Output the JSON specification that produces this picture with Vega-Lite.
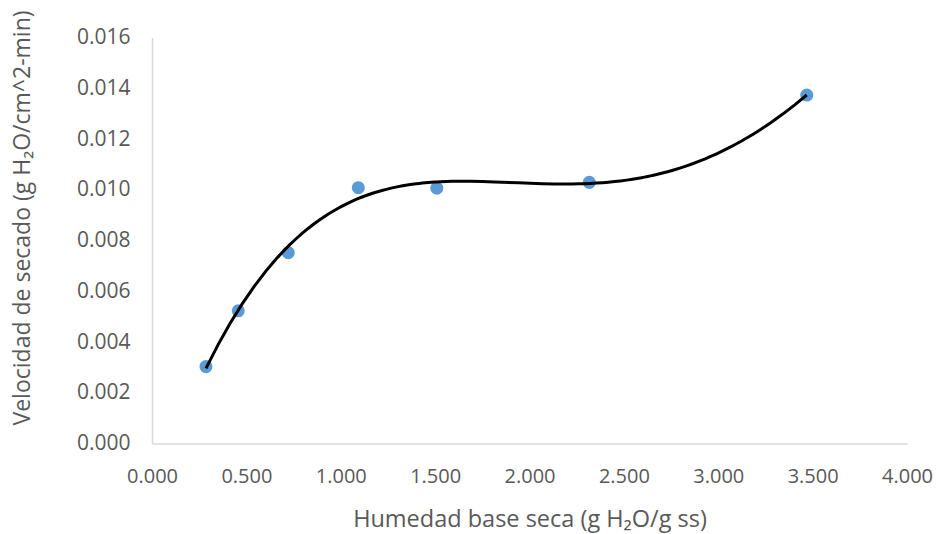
{
  "$schema": "https://vega.github.io/schema/vega-lite/v6.json",
  "width": 755,
  "height": 406,
  "autosize": {"type": "none"},
  "padding": {"left": 152, "top": 37.5, "right": 36, "bottom": 90.5},
  "background": "white",
  "config": {"view": {"stroke": null}},
  "data": {
    "values": [
      {"humedad": 0.286, "velocidad": 0.00303},
      {"humedad": 0.457, "velocidad": 0.00523},
      {"humedad": 0.722, "velocidad": 0.00752},
      {"humedad": 1.093, "velocidad": 0.01008},
      {"humedad": 1.509, "velocidad": 0.01006},
      {"humedad": 2.317, "velocidad": 0.01029},
      {"humedad": 3.469, "velocidad": 0.01373}
    ]
  },
  "encoding": {
    "x": {
      "field": "humedad",
      "type": "quantitative",
      "scale": {"domain": [0, 4], "nice": false, "zero": false},
      "axis": {
        "title": "Humedad base seca (g H₂O/g ss)",
        "values": [0, 0.5, 1, 1.5, 2, 2.5, 3, 3.5, 4],
        "format": ".3f",
        "grid": false,
        "ticks": false,
        "domainColor": "#D9D9D9",
        "domainWidth": 1.5,
        "labelColor": "#595959",
        "labelFont": "Open Sans",
        "labelFontSize": 20,
        "labelPadding": 23,
        "labelFlush": false,
        "titleColor": "#595959",
        "titleFont": "Open Sans",
        "titleFontSize": 23.5,
        "titleFontWeight": "normal",
        "titlePadding": 21
      }
    },
    "y": {
      "field": "velocidad",
      "type": "quantitative",
      "scale": {"domain": [0, 0.016], "nice": false},
      "axis": {
        "title": "Velocidad de secado (g H₂O/cm^2-min)",
        "values": [0, 0.002, 0.004, 0.006, 0.008, 0.01, 0.012, 0.014, 0.016],
        "format": ".3f",
        "grid": false,
        "ticks": false,
        "domainColor": "#D9D9D9",
        "domainWidth": 1.5,
        "labelColor": "#595959",
        "labelFont": "Open Sans",
        "labelFontSize": 21,
        "labelPadding": 22,
        "labelFlush": false,
        "titleColor": "#595959",
        "titleFont": "Open Sans",
        "titleFontSize": 23,
        "titleFontWeight": "normal",
        "titleBaseline": "middle",
        "titleX": -130,
        "titleY": 180
      }
    }
  },
  "layer": [
    {
      "mark": {"type": "point", "filled": true, "size": 170, "color": "#5B9BD5", "opacity": 1}
    },
    {
      "transform": [
        {"regression": "velocidad", "on": "humedad", "method": "poly", "order": 4}
      ],
      "mark": {"type": "line", "color": "#000000", "strokeWidth": 3}
    }
  ]
}
